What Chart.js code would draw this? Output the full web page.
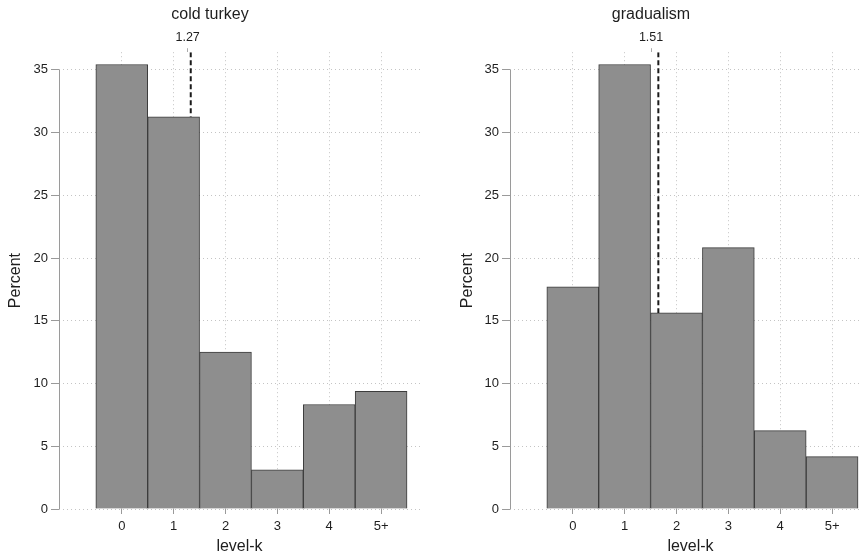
<!DOCTYPE html>
<html>
<head>
<meta charset="utf-8">
<script src="https://cdn.jsdelivr.net/npm/chart.js@4"></script>
<style>
  html, body { margin: 0; padding: 0; background: #fff; overflow: hidden; width: 862px; height: 556px; }
  #c1 { position: absolute; left: 0; top: 0; }
  #c2 { position: absolute; left: 431px; top: 0; }
</style>
</head>
<body>
<canvas id="c1" width="431" height="556"></canvas>
<canvas id="c2" width="441" height="556"></canvas>
<script>
// level-k categories, percent of subjects
const levels = ['0', '1', '2', '3', '4', '5+'];
const levelPos = [0, 1, 2, 3, 4, 5];
const coldTurkey = [35.42, 31.25, 12.5, 3.125, 8.33, 9.375];
const gradualism = [17.71, 35.42, 15.625, 20.83, 6.25, 4.17];
const titles = ['cold turkey', 'gradualism'];
const meanLabels = [1.27, 1.51];     // mean shown on top axis
const meanLineAt = [1.33, 1.65];     // where the dashed line is drawn
const yTicks = [0, 5, 10, 15, 20, 25, 30, 35];

const FONT = '"Liberation Sans", Arial, sans-serif';
const txt = '#1e1e1e';
const xMin = -1.21, xMax = 5.75, yMax = 36.4;

// y axis line only spans 0..35
const axisLine = {
  id: 'axisLine',
  afterDraw(chart) {
    const y = chart.scales.y, ctx = chart.ctx;
    ctx.save();
    ctx.strokeStyle = '#9a9a9a';
    ctx.lineWidth = 1;
    ctx.beginPath();
    ctx.moveTo(chart.chartArea.left + 0.5, y.getPixelForValue(0));
    ctx.lineTo(chart.chartArea.left + 0.5, y.getPixelForValue(35));
    ctx.stroke();
    ctx.restore();
  }
};

function makeChart(id, i, vals, yAxisW, titlePad, padRight) {
  const barIdx = Math.floor(meanLineAt[i] + 0.5);
  new Chart(document.getElementById(id), {
    data: {
      datasets: [{
        type: 'bar',
        data: levelPos.map((x, k) => ({x: x, y: vals[k]})),
        backgroundColor: '#8e8e8e',
        borderColor: '#3c3c3c',
        borderWidth: 1,
        barPercentage: 1,
        categoryPercentage: 1,
        order: 2
      }, {
        type: 'line',
        data: [{x: meanLineAt[i], y: yMax}, {x: meanLineAt[i], y: vals[barIdx]}],
        borderColor: '#1a1a1a',
        borderWidth: 2,
        borderDash: [5, 3],
        pointRadius: 0,
        order: 1
      }]
    },
    options: {
      responsive: false,
      animation: false,
      layout: {padding: {left: 0, right: padRight, top: 0, bottom: 0}},
      plugins: {
        legend: {display: false},
        tooltip: {enabled: false},
        title: {
          display: true, text: titles[i], color: txt,
          font: {family: FONT, size: 16, weight: 'normal'},
          padding: {top: 5, bottom: 4}
        }
      },
      scales: {
        x: {
          type: 'linear', position: 'bottom', min: xMin, max: xMax, offset: false,
          afterBuildTicks: s => { s.ticks = levelPos.map(v => ({value: v})); },
          afterFit: s => { s.height = 47; },
          ticks: {
            callback: (v, k) => levels[k], color: txt, padding: 5,
            font: {family: FONT, size: 13}, maxRotation: 0
          },
          grid: {color: '#c4c4c4', offset: false, tickLength: 5, tickColor: '#9a9a9a', tickBorderDash: []},
          border: {display: false, dash: [1, 3]},
          title: {display: true, text: 'level-k', color: txt, font: {family: FONT, size: 16}, padding: {top: 0, bottom: 0}}
        },
        x2: {
          type: 'linear', position: 'top', min: xMin, max: xMax, offset: false,
          afterBuildTicks: s => { s.ticks = [{value: meanLabels[i]}]; },
          afterFit: s => { s.height = 24; },
          ticks: {callback: () => meanLabels[i].toFixed(2), color: txt, padding: 3, font: {family: FONT, size: 12.5}},
          grid: {drawOnChartArea: false, tickLength: 4, tickColor: '#aaaaaa'},
          border: {display: false}
        },
        y: {
          type: 'linear', min: 0, max: yMax,
          afterBuildTicks: s => { s.ticks = yTicks.map(v => ({value: v})); },
          afterFit: s => { s.width = yAxisW; },
          ticks: {color: txt, padding: 3, font: {family: FONT, size: 13}},
          grid: {color: '#c4c4c4', tickLength: 8, tickColor: '#9a9a9a', tickBorderDash: []},
          border: {display: false, dash: [1, 3]},
          title: {display: true, text: 'Percent', color: txt, font: {family: FONT, size: 16}, padding: {top: titlePad, bottom: 0}}
        }
      }
    },
    plugins: [axisLine]
  });
}

makeChart('c1', 0, coldTurkey, 59, 6, 11);
makeChart('c2', 1, gradualism, 79, 27, 1);
</script>
</body>
</html>
